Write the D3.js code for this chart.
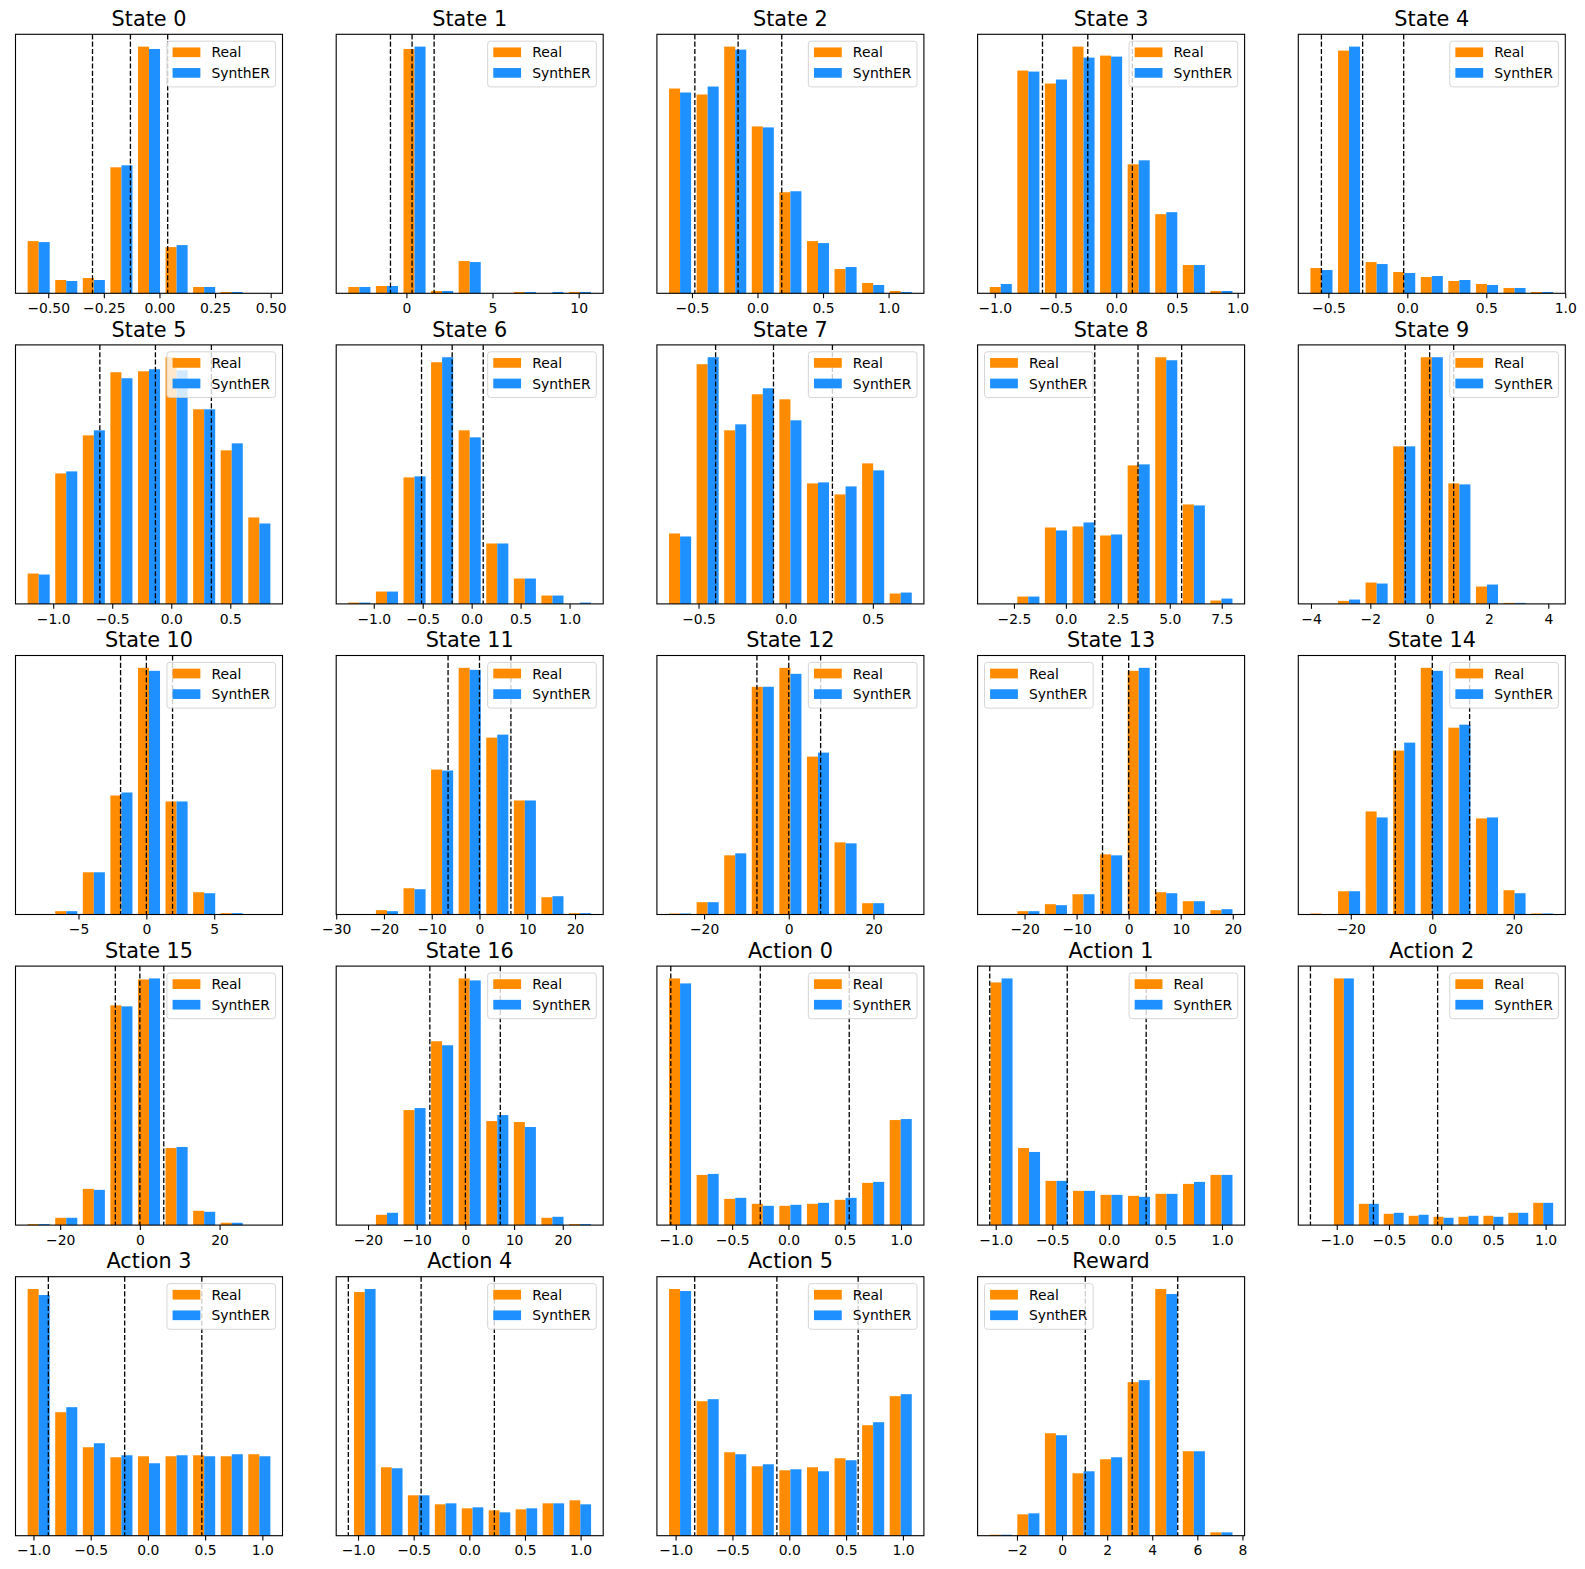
<!DOCTYPE html>
<html>
<head>
  <meta charset="utf-8">
  <title>Real vs SynthER</title>
  <script src="https://cdn.jsdelivr.net/npm/d3@7"></script>
  <style>
    body { margin: 0; background: #fff; }
    svg text { font-family: "DejaVu Sans", sans-serif; }
  </style>
</head>
<body>
  <div id="chart"></div>
  <script>
    // Panel titles, one per dimension
    const titles = ["State 0", "State 1", "State 2", "State 3", "State 4",
      "State 5", "State 6", "State 7", "State 8", "State 9",
      "State 10", "State 11", "State 12", "State 13", "State 14",
      "State 15", "State 16", "Action 0", "Action 1", "Action 2",
      "Action 3", "Action 4", "Action 5", "Reward"];

    // first and last bin edge (9 bins each)
    const binLo = [-0.605, -3.53, -0.696, -1.064, -0.631,
      -1.240, -1.288, -0.685, -3.798, -4.111,
      -8.95, -28.04, -28.92, -27.22, -30.58,
      -28.85, -24.61, -1.085, -1.07, -1.051,
      -1.075, -1.06, -1.082, -3.33];
    const binHi = [0.511, 10.88, 1.198, 0.980, 0.941,
      0.863, 1.248, 0.739, 8.149, 4.257,
      9.34, 23.94, 29.69, 20.47, 30.34,
      33.44, 26.38, 1.12, 1.117, 1.096,
      1.094, 1.118, 1.102, 7.68];

    // bin counts (relative), Real dataset
    const realCounts = [
      [157, 40, 46, 379, 742, 139, 19, 4, 0],
      [19, 22, 735, 7, 97, 0, 4, 0, 4],
      [616, 598, 742, 502, 304, 157, 73, 31, 7],
      [19, 670, 631, 742, 715, 388, 238, 85, 7],
      [76, 730, 94, 64, 49, 37, 28, 16, 4],
      [91, 391, 505, 694, 697, 739, 583, 460, 259],
      [4, 37, 379, 724, 520, 181, 76, 25, 0],
      [211, 718, 520, 628, 613, 361, 328, 421, 31],
      [0, 22, 229, 232, 205, 415, 739, 298, 10],
      [0, 9, 64, 472, 739, 361, 52, 3, 0],
      [0, 10, 127, 358, 742, 340, 67, 4, 0],
      [0, 13, 79, 436, 742, 532, 343, 52, 4],
      [3, 37, 178, 685, 742, 475, 217, 34, 0],
      [0, 10, 31, 61, 181, 733, 67, 40, 13],
      [3, 70, 310, 493, 742, 562, 289, 73, 3],
      [3, 22, 109, 661, 739, 232, 43, 7, 0],
      [0, 31, 346, 553, 742, 313, 310, 22, 3],
      [742, 151, 79, 64, 58, 64, 76, 127, 316],
      [730, 232, 133, 103, 91, 88, 94, 124, 151],
      [742, 64, 34, 28, 25, 25, 28, 37, 67],
      [739, 370, 265, 235, 238, 238, 241, 238, 244],
      [730, 205, 121, 94, 82, 76, 79, 97, 106],
      [739, 403, 250, 208, 196, 205, 232, 331, 418],
      [3, 64, 307, 187, 229, 460, 739, 253, 10]
    ];

    // bin counts (relative), SynthER dataset
    const synthCounts = [
      [154, 37, 40, 385, 735, 145, 19, 4, 0],
      [19, 22, 742, 7, 94, 0, 4, 4, 4],
      [604, 622, 733, 499, 307, 151, 79, 25, 4],
      [28, 667, 643, 709, 712, 400, 244, 85, 7],
      [70, 742, 88, 61, 52, 40, 25, 16, 4],
      [88, 397, 520, 676, 703, 700, 583, 481, 241],
      [4, 37, 382, 739, 499, 181, 76, 25, 4],
      [202, 739, 538, 646, 550, 364, 352, 400, 34],
      [0, 22, 220, 244, 208, 418, 730, 295, 16],
      [0, 13, 61, 472, 739, 358, 58, 3, 0],
      [0, 10, 127, 367, 733, 340, 64, 4, 0],
      [0, 10, 76, 433, 736, 541, 343, 55, 4],
      [3, 37, 184, 685, 724, 487, 214, 34, 0],
      [0, 10, 28, 61, 178, 742, 64, 40, 16],
      [0, 70, 292, 517, 733, 571, 292, 64, 3],
      [3, 22, 106, 658, 742, 235, 40, 7, 0],
      [0, 37, 352, 541, 736, 331, 295, 25, 3],
      [727, 154, 82, 58, 61, 67, 82, 130, 319],
      [742, 220, 133, 103, 91, 85, 94, 130, 151],
      [742, 64, 37, 31, 22, 28, 25, 37, 67],
      [721, 385, 277, 241, 217, 241, 238, 244, 238],
      [739, 202, 121, 97, 85, 70, 82, 97, 94],
      [733, 409, 244, 214, 199, 193, 226, 340, 424],
      [3, 67, 301, 193, 235, 466, 724, 253, 10]
    ];

    // dashed reference lines (mean - std, mean, mean + std)
    const dashLines = [
      [-0.301, -0.1305, 0.037], [-0.924, 0.33, 1.61], [-0.478, -0.148, 0.185],
      [-0.607, -0.234, 0.133], [-0.544, -0.283, -0.023], [-0.605, -0.134, 0.340],
      [-0.512, -0.199, 0.118], [-0.402, -0.070, 0.268], [1.39, 3.47, 5.57],
      [-0.82, 0, 0.81], [-1.90, 0, 1.93], [-6.58, 0, 6.58],
      [-7.52, 0, 7.52], [-5.02, 0, 5.18], [-9.08, 0, 9.16],
      [-6.15, 0, 6.0], [-7.3, 0, 7.17], [-1.045, -0.25, 0.54],
      [-1.053, -0.368, 0.33], [-1.252, -0.649, -0.034], [-0.87, -0.203, 0.471],
      [-1.087, -0.433, 0.225], [-0.832, -0.109, 0.606], [1.03, 3.11, 5.13]
    ];

    // x tick values per panel
    const actTicks = [-1, -0.5, 0, 0.5, 1];
    const tickValues = [
      [-0.5, -0.25, 0, 0.25, 0.5], [0, 5, 10], [-0.5, 0, 0.5, 1],
      [-1, -0.5, 0, 0.5, 1], [-0.5, 0, 0.5, 1], [-1, -0.5, 0, 0.5],
      [-1, -0.5, 0, 0.5, 1], [-0.5, 0, 0.5], [-2.5, 0, 2.5, 5, 7.5],
      [-4, -2, 0, 2, 4], [-5, 0, 5], [-30, -20, -10, 0, 10, 20],
      [-20, 0, 20], [-20, -10, 0, 10, 20], [-20, 0, 20],
      [-20, 0, 20], [-20, -10, 0, 10, 20], actTicks,
      actTicks, actTicks, actTicks,
      actTicks, actTicks, [-2, 0, 2, 4, 6, 8]
    ];

    const legendOnLeft = ["State 8", "State 13", "Reward"];
    const seriesNames = ["Real", "SynthER"];
    const colors = ["#ff8c00", "#1e90ff"];

    // Figure geometry
    const W = 1585, H = 1569;
    const axW = 267, axH = 259;
    const fs = 13.9;

    const svg = d3.select("#chart")
      .append("svg")
      .attr("width", W)
      .attr("height", H);

    titles.forEach(function (title, i) {
      const col = i % 5, row = Math.floor(i / 5);
      const g = svg.append("g")
        .attr("transform", `translate(${15.5 + 320.7 * col},${34.3 + 310.6 * row})`);

      const bw = (binHi[i] - binLo[i]) / 9;
      const dmin = Math.min(binLo[i] + 0.1 * bw, ...dashLines[i]);
      const dmax = Math.max(binHi[i] - 0.1 * bw, ...dashLines[i]);
      const pad = 0.05 * (dmax - dmin);

      const x = d3.scaleLinear().domain([dmin - pad, dmax + pad]).range([0, axW]);
      const ymax = 1.05 * d3.max(realCounts[i].concat(synthCounts[i]));
      const y = d3.scaleLinear().domain([0, ymax]).range([axH, 0]);

      // bars: each dataset gets 0.4 of the bin, starting 0.1 in
      [realCounts[i], synthCounts[i]].forEach(function (counts, s) {
        g.append("g")
          .selectAll("rect")
          .data(counts)
          .enter()
          .append("rect")
          .attr("x", (d, j) => x(binLo[i] + (j + 0.1 + 0.4 * s) * bw))
          .attr("width", (d, j) => x(binLo[i] + (j + 0.5 + 0.4 * s) * bw) - x(binLo[i] + (j + 0.1 + 0.4 * s) * bw))
          .attr("y", d => y(d))
          .attr("height", d => axH - y(d))
          .attr("fill", colors[s]);
      });

      // dashed lines
      g.selectAll("line.dash")
        .data(dashLines[i])
        .enter()
        .append("line")
        .attr("class", "dash")
        .attr("x1", d => x(d))
        .attr("x2", d => x(d))
        .attr("y1", 0)
        .attr("y2", axH)
        .attr("stroke", "black")
        .attr("stroke-width", 1.3)
        .attr("stroke-dasharray", "5.1,2.2");

      // frame
      g.append("rect")
        .attr("width", axW)
        .attr("height", axH)
        .attr("fill", "none")
        .attr("stroke", "black")
        .attr("stroke-width", 1.1);

      // x axis
      const dec = d3.max(tickValues[i], v => {
        const s = String(v);
        return s.includes(".") ? s.split(".")[1].length : 0;
      });
      const ax = g.append("g")
        .attr("transform", `translate(0,${axH})`)
        .call(d3.axisBottom(x)
          .tickValues(tickValues[i])
          .tickFormat(d3.format(`.${dec}f`))
          .tickSize(4.9)
          .tickPadding(4.9));
      ax.select(".domain").remove();
      ax.selectAll(".tick line").attr("stroke-width", 1.1).attr("stroke", "black");
      ax.selectAll(".tick text")
        .attr("font-size", fs)
        .attr("fill", "black")
        .style("font-family", "DejaVu Sans");

      // title
      g.append("text")
        .attr("x", axW / 2)
        .attr("y", -8.3)
        .attr("text-anchor", "middle")
        .attr("font-size", 20.8)
        .attr("fill", "black")
        .text(title);

      // legend
      const lg = g.append("g");
      const box = lg.append("rect");
      let tw = 0;
      seriesNames.forEach(function (name, s) {
        const cy = 11.1 + s * 20.6;
        lg.append("rect")
          .attr("x", 5.6)
          .attr("y", cy - 4.85)
          .attr("width", 27.8)
          .attr("height", 9.7)
          .attr("fill", colors[s]);
        const t = lg.append("text")
          .attr("x", 44.5)
          .attr("y", cy + 5.1)
          .attr("font-size", fs)
          .attr("fill", "black")
          .text(name);
        tw = Math.max(tw, t.node().getComputedTextLength());
      });
      const lw = 44.5 + tw + 5.6;
      box.attr("width", lw)
        .attr("height", 45.7)
        .attr("rx", 2.8)
        .attr("fill", "white")
        .attr("fill-opacity", 0.8)
        .attr("stroke", "#cccccc")
        .attr("stroke-opacity", 0.8)
        .attr("stroke-width", 1);
      const lx = legendOnLeft.includes(title) ? 6.9 : axW - 6.9 - lw;
      lg.attr("transform", `translate(${lx},6.9)`);
    });
  </script>
</body>
</html>
